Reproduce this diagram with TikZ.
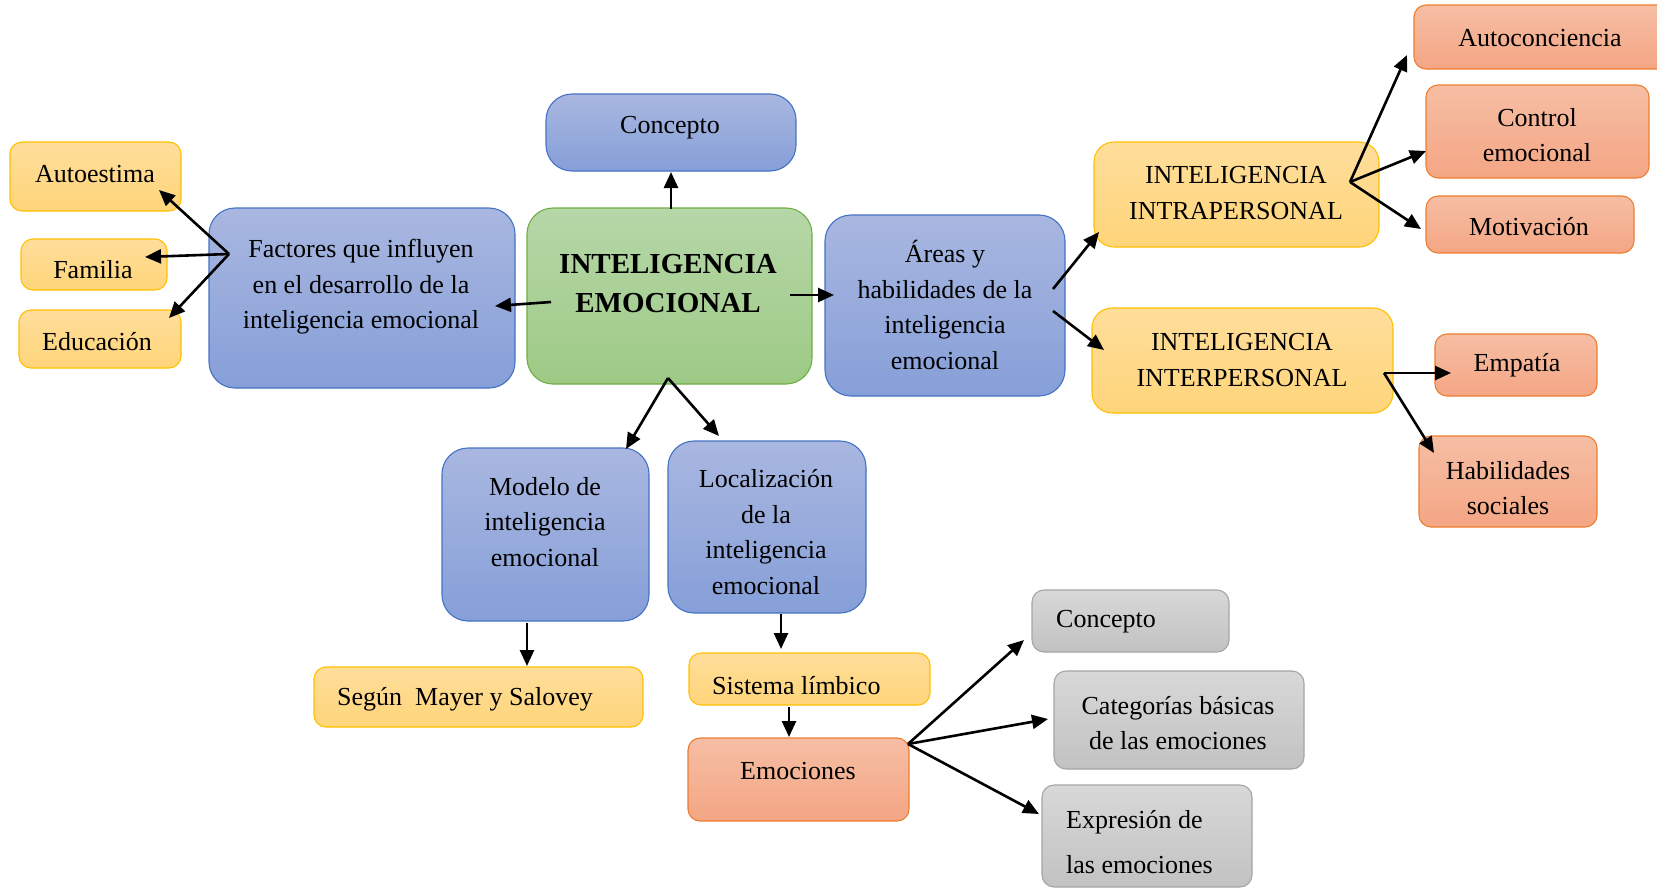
\documentclass[tikz,border=0pt]{standalone}
\usepackage{fontspec}
\setmainfont{Liberation Serif}
\usetikzlibrary{arrows.meta}
\definecolor{bluetop}{RGB}{169,183,224}
\definecolor{bluebot}{RGB}{134,159,216}
\definecolor{bluedr}{RGB}{68,114,196}
\definecolor{greentop}{RGB}{182,215,168}
\definecolor{greenbot}{RGB}{157,202,133}
\definecolor{greendr}{RGB}{112,173,71}
\definecolor{yeltop}{RGB}{255,222,155}
\definecolor{yelbot}{RGB}{255,213,122}
\definecolor{yeldr}{RGB}{255,192,0}
\definecolor{ortop}{RGB}{246,190,164}
\definecolor{orbot}{RGB}{244,166,132}
\definecolor{ordr}{RGB}{237,125,49}
\definecolor{graytop}{RGB}{216,216,216}
\definecolor{graybot}{RGB}{194,194,194}
\definecolor{graydr}{RGB}{165,165,165}
\tikzset{
  box/.style={anchor=north west, inner sep=0pt, outer sep=0pt, line width=1.1pt},
  bluebox/.style={box, draw=bluedr, top color=bluetop, bottom color=bluebot, rounded corners=26pt},
  greenbox/.style={box, draw=greendr, top color=greentop, bottom color=greenbot, rounded corners=26pt},
  yelbox/.style={box, draw=yeldr, top color=yeltop, bottom color=yelbot, rounded corners=12pt},
  bigyelbox/.style={box, draw=yeldr, top color=yeltop, bottom color=yelbot, rounded corners=20pt},
  orbox/.style={box, draw=ordr, top color=ortop, bottom color=orbot, rounded corners=12pt},
  graybox/.style={box, draw=graydr, top color=graytop, bottom color=graybot, rounded corners=12pt},
  txt/.style={font=\fontsize{26}{35.5}\selectfont, align=center, inner sep=0pt, yshift=-3pt},
  ltxt/.style={font=\fontsize{26}{35.5}\selectfont, align=left, anchor=west, inner sep=0pt, yshift=-3pt},
  arr/.style={-{Triangle[length=16pt,width=14pt]}, line width=2.6pt},
}
\begin{document}
\begin{tikzpicture}[x=1pt,y=-1pt]
\useasboundingbox (0,0) rectangle (1657,889);
% boxes
\node[bluebox, minimum width=250, minimum height=77] (concepto) at (546,94) {};
\node[greenbox, minimum width=285, minimum height=176] (central) at (527,208) {};
\node[bluebox, minimum width=306, minimum height=180] (factores) at (209,208) {};
\node[yelbox, minimum width=171, minimum height=69] (autoestima) at (10,142) {};
\node[yelbox, minimum width=146, minimum height=51] (familia) at (21,239) {};
\node[yelbox, minimum width=162, minimum height=58] (educacion) at (19,310) {};
\node[bluebox, minimum width=240, minimum height=181] (areas) at (825,215) {};
\node[bigyelbox, minimum width=285, minimum height=105] (intra) at (1094,142) {};
\node[bigyelbox, minimum width=301, minimum height=105] (inter) at (1092,308) {};
\node[orbox, minimum width=262, minimum height=64] (autoconc) at (1414,5) {};
\node[orbox, minimum width=223, minimum height=93] (control) at (1426,85) {};
\node[orbox, minimum width=208, minimum height=57] (motiv) at (1426,196) {};
\node[orbox, minimum width=162, minimum height=62] (empatia) at (1435,334) {};
\node[orbox, minimum width=178, minimum height=91] (habil) at (1419,436) {};
\node[bluebox, minimum width=207, minimum height=173] (modelo) at (442,448) {};
\node[bluebox, minimum width=198, minimum height=172] (local) at (668,441) {};
\node[yelbox, minimum width=329, minimum height=60] (segun) at (314,667) {};
\node[yelbox, minimum width=241, minimum height=52] (sistema) at (689,653) {};
\node[orbox, minimum width=221, minimum height=83] (emociones) at (688,738) {};
\node[graybox, minimum width=197, minimum height=62] (concepto2) at (1032,590) {};
\node[graybox, minimum width=250, minimum height=98] (categorias) at (1054,671) {};
\node[graybox, minimum width=210, minimum height=102] (expresion) at (1042,785) {};
% texts
\node[txt] (tconcepto) at (670,125) {Concepto};
\node[txt, font=\fontsize{29}{39}\selectfont\bfseries] (tcentral) at (668,281) {INTELIGENCIA\\EMOCIONAL};
\node[txt] (tfactores) at (361,284) {Factores que influyen\\en el desarrollo de la\\inteligencia emocional};
\node[txt] (tautoestima) at (95,171) {Autoestima};
\node[txt] (tfamilia) at (93,267) {Familia};
\node[txt] (teducacion) at (97,339) {Educación};
\node[txt] (tareas) at (945,302) {Áreas y\\habilidades de la\\inteligencia\\emocional};
\node[txt] (tintra) at (1236,190) {INTELIGENCIA\\INTRAPERSONAL};
\node[txt] (tinter) at (1242,357) {INTELIGENCIA\\INTERPERSONAL};
\node[txt] (tautoconc) at (1540,35) {Autoconciencia};
\node[txt] (tcontrol) at (1537,132) {Control\\emocional};
\node[txt] (tmotiv) at (1529,224) {Motivación};
\node[txt] (tempatia) at (1517,362) {Empatía};
\node[txt] (thabil) at (1508,485) {Habilidades\\sociales};
\node[txt] (tmodelo) at (545,519) {Modelo de\\inteligencia\\emocional};
\node[txt] (tlocal) at (766,529) {Localización\\de la\\inteligencia\\emocional};
\node[ltxt] (tsegun) at (337,696) {Según\ \ Mayer y Salovey};
\node[ltxt] (tsistema) at (712,683) {Sistema límbico};
\node[txt] (temociones) at (798,768) {Emociones};
\node[ltxt] (tconcepto2) at (1056,619) {Concepto};
\node[txt] (tcategorias) at (1178,720) {Categorías básicas\\de las emociones};
\node[ltxt, font=\fontsize{26}{45}\selectfont] (texpresion) at (1066,839) {Expresión de\\las emociones};
% connector points
\coordinate (cT) at (671,209); \coordinate (kB) at (671,172);
\coordinate (cL) at (551,302); \coordinate (fR) at (495,306);
\coordinate (F0) at (229,254);
\coordinate (fa) at (159,190); \coordinate (ff) at (145,257); \coordinate (fe) at (169,318);
\coordinate (cR) at (790,295); \coordinate (aL) at (834,295);
\coordinate (B0) at (668,378);
\coordinate (mT) at (626,449); \coordinate (lT) at (719,436);
\coordinate (aR1) at (1053,289); \coordinate (iL) at (1099,232);
\coordinate (aR2) at (1053,311); \coordinate (eL) at (1104,350);
\coordinate (I0) at (1350,182);
\coordinate (ia) at (1407,55); \coordinate (ic) at (1426,151); \coordinate (im) at (1421,229);
\coordinate (E0) at (1384,373);
\coordinate (ee) at (1451,373); \coordinate (eh) at (1434,453);
\coordinate (mB) at (527,623); \coordinate (sT) at (527,666);
\coordinate (lB) at (781,614); \coordinate (siT) at (781,649);
\coordinate (siB) at (789,707); \coordinate (emT) at (789,737);
\coordinate (M0) at (908,744);
\coordinate (mc) at (1024,640); \coordinate (mk) at (1048,719); \coordinate (mx) at (1039,814);
% connectors
\draw[arr] (cT) -- (kB);
\draw[arr] (cL) -- (fR);
\draw[arr] (F0) -- (fa);
\draw[arr] (F0) -- (ff);
\draw[arr] (F0) -- (fe);
\draw[arr] (cR) -- (aL);
\draw[arr] (B0) -- (mT);
\draw[arr] (B0) -- (lT);
\draw[arr] (aR1) -- (iL);
\draw[arr] (aR2) -- (eL);
\draw[arr] (I0) -- (ia);
\draw[arr] (I0) -- (ic);
\draw[arr] (I0) -- (im);
\draw[arr] (E0) -- (ee);
\draw[arr] (E0) -- (eh);
\draw[arr] (mB) -- (sT);
\draw[arr] (lB) -- (siT);
\draw[arr] (siB) -- (emT);
\draw[arr] (M0) -- (mc);
\draw[arr] (M0) -- (mk);
\draw[arr] (M0) -- (mx);
\end{tikzpicture}
\end{document}
